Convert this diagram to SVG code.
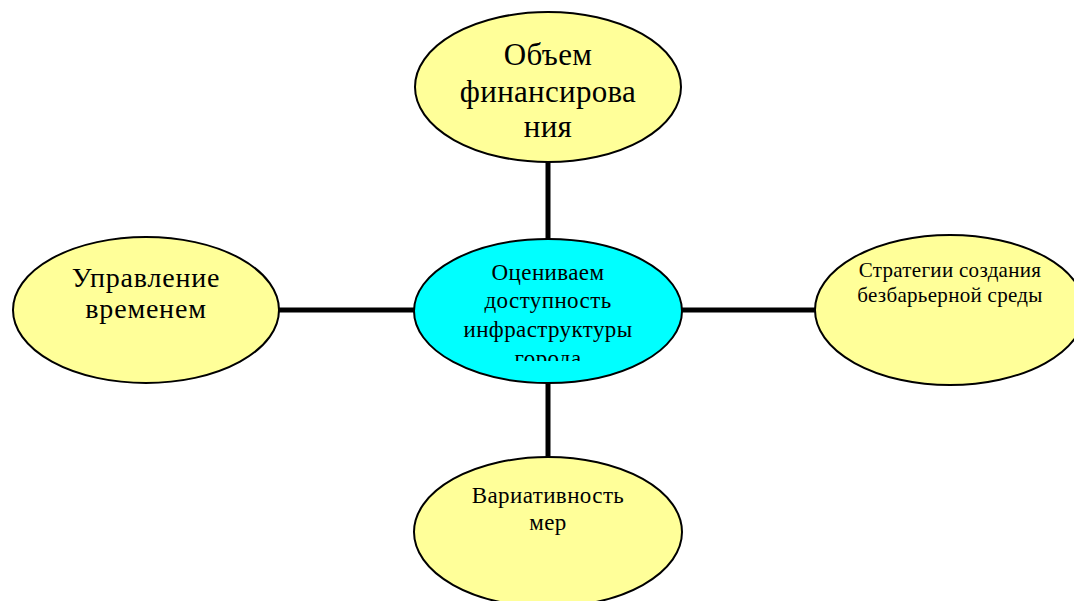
<svg xmlns="http://www.w3.org/2000/svg" width="1074" height="601" viewBox="0 0 1074 601">
<style>
.n{fill:#FFFF99;stroke:#000;stroke-width:2}
.c{fill:#00FFFF;stroke:#000;stroke-width:2}
text{font-family:"Liberation Serif","Times New Roman",serif;fill:#000;text-anchor:middle}
.e{stroke:#000;stroke-width:5;fill:none}
</style>
<defs>
<clipPath id="clipC"><rect x="414" y="240" width="270" height="121"/></clipPath>
</defs>
<rect width="1074" height="601" fill="#fff"/>
<g id="connectors">
<line class="e" x1="548" y1="162" x2="548" y2="241"/>
<line class="e" x1="548" y1="382" x2="548" y2="458"/>
<line class="e" x1="279" y1="310" x2="415" y2="310"/>
<line class="e" x1="681" y1="310" x2="816" y2="310"/>
</g>
<g id="node-top">
<ellipse class="n" cx="548" cy="87" rx="133" ry="75"/>
<text font-size="31" letter-spacing="0.3"><tspan x="548" y="65">Объем</tspan><tspan x="548" y="102">финансирова</tspan><tspan x="548" y="137">ния</tspan></text>
</g>
<g id="node-center">
<ellipse class="c" cx="548" cy="311" rx="134" ry="72"/>
<text font-size="23" letter-spacing="0.4" clip-path="url(#clipC)"><tspan x="548" y="280">Оцениваем</tspan><tspan x="548" y="308">доступность</tspan><tspan x="548" y="337">инфраструктуры</tspan><tspan x="548" y="366">города</tspan></text>
</g>
<g id="node-left">
<ellipse class="n" cx="146" cy="310" rx="133" ry="73"/>
<text font-size="28" letter-spacing="0.8"><tspan x="146" y="287">Управление</tspan><tspan x="146" y="318">временем</tspan></text>
</g>
<g id="node-right">
<ellipse class="n" cx="950" cy="310" rx="135" ry="75"/>
<text font-size="21" letter-spacing="0.3"><tspan x="950" y="277">Стратегии создания</tspan><tspan x="950" y="302">безбарьерной среды</tspan></text>
</g>
<g id="node-bottom">
<ellipse class="n" cx="548" cy="532" rx="134" ry="75"/>
<text font-size="23" letter-spacing="0.4"><tspan x="548" y="503">Вариативность</tspan><tspan x="548" y="530">мер</tspan></text>
</g>
</svg>
